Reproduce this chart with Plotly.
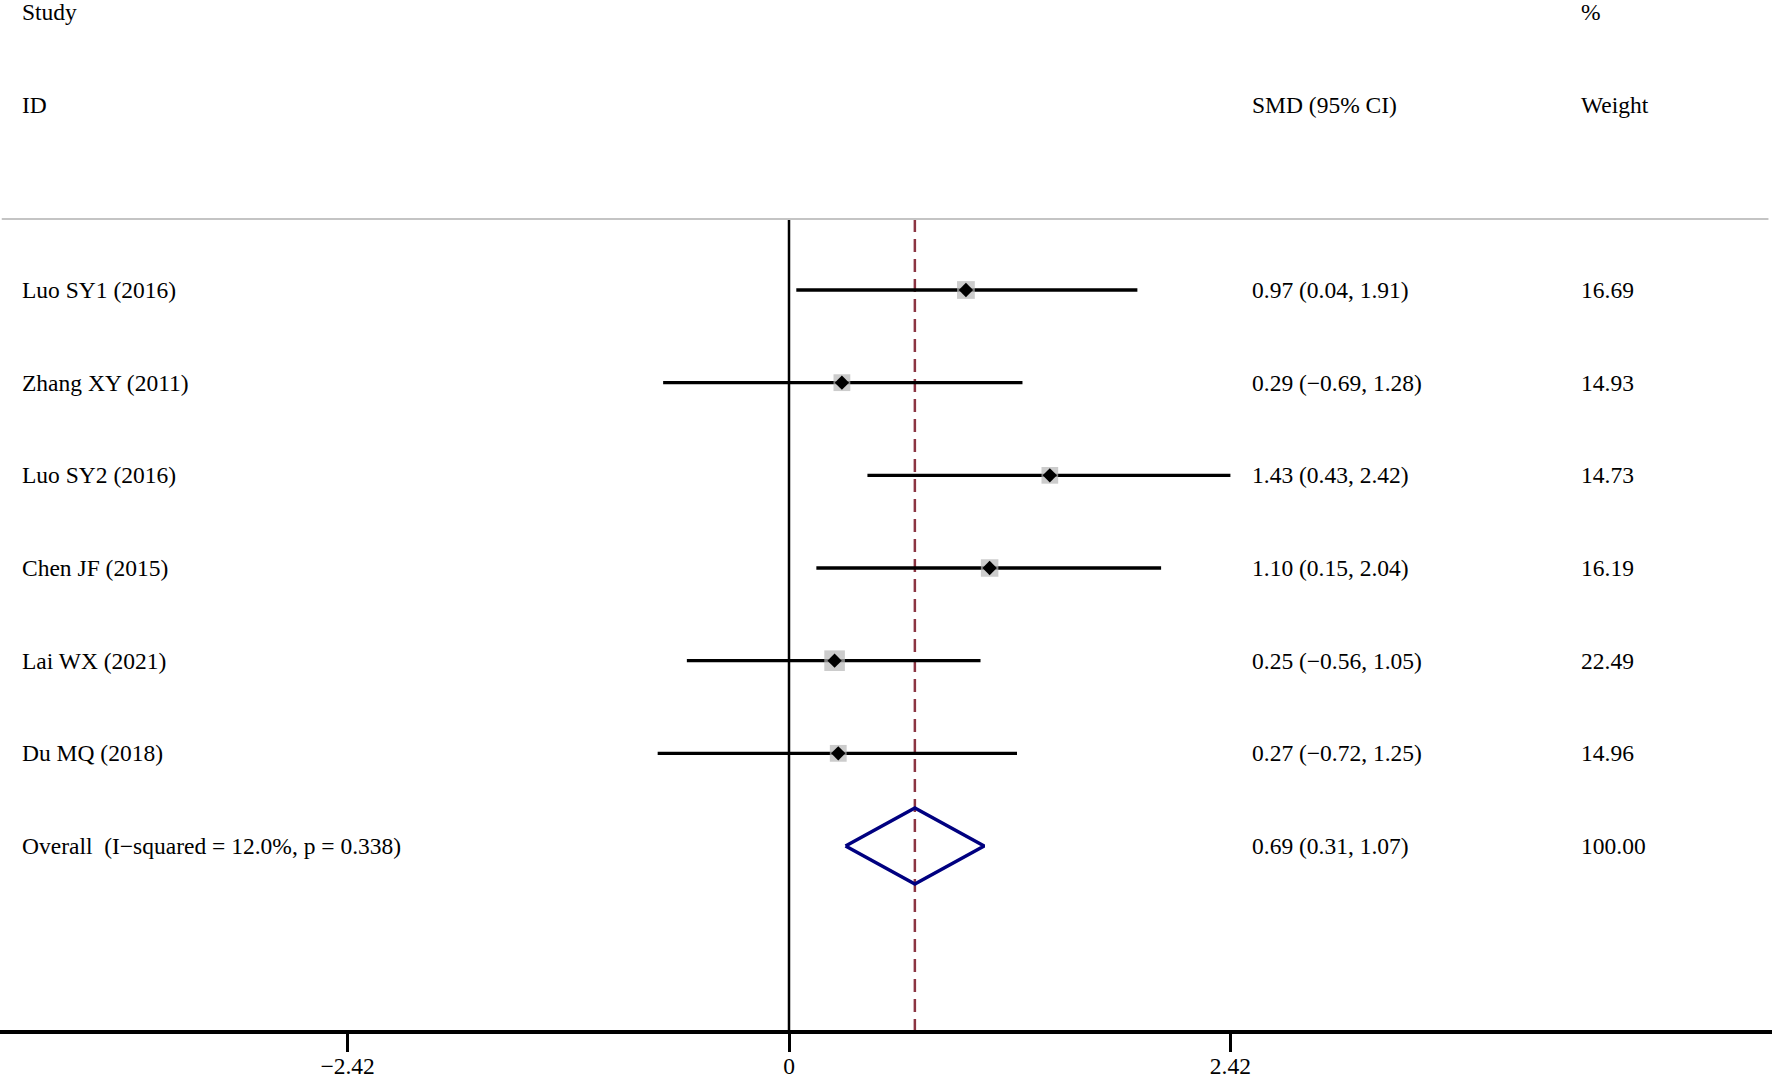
import plotly.graph_objects as go

studies = ["Luo SY1 (2016)", "Zhang XY (2011)", "Luo SY2 (2016)", "Chen JF (2015)",
           "Lai WX (2021)", "Du MQ (2018)"]
smd = [0.97, 0.29, 1.43, 1.10, 0.25, 0.27]
ci_low = [0.04, -0.69, 0.43, 0.15, -0.56, -0.72]
ci_high = [1.91, 1.28, 2.42, 2.04, 1.05, 1.25]
weights = [16.69, 14.93, 14.73, 16.19, 22.49, 14.96]
overall_label = "Overall  (I\u2212squared = 12.0%, p = 0.338)"
overall_est = 0.69
overall_low = 0.31
overall_high = 1.07
overall_weight = 100.00
tick_vals = [-2.42, 0, 2.42]
tick_text = ["\u22122.42", "0", "2.42"]

W, H = 1772, 1079
FONT = "Liberation Serif, Times New Roman, serif"
FS = 23.5

def fmt(v):
    return f"{v:.2f}".replace("-", "\u2212")

rows = list(range(len(studies)))
overall_row = len(studies)
# row 0 sits 290px from the top, rows 92.67px apart, plot bottom at 1030px
row0_px, row_px, plot_bottom_px = 290, 92.67, 1030
y_top = -row0_px / row_px
y_bottom = (plot_bottom_px - row0_px) / row_px
header_line_y = (219 - row0_px) / row_px
hdr1_y = (12 - row0_px) / row_px
hdr2_y = (105 - row0_px) / row_px

fig = go.Figure()

# zero line
fig.add_trace(go.Scatter(x=[0, 0], y=[header_line_y, y_bottom], mode="lines",
                         line=dict(color="black", width=2.5), hoverinfo="skip", showlegend=False))
# overall dashed line
fig.add_trace(go.Scatter(x=[overall_est, overall_est], y=[header_line_y, y_bottom], mode="lines",
                         line=dict(color="#8b3442", width=2.5, dash="13px,7px"),
                         hoverinfo="skip", showlegend=False))

# CI lines
cx, cy = [], []
for i in rows:
    cx += [ci_low[i], ci_high[i], None]
    cy += [i, i, None]
fig.add_trace(go.Scatter(x=cx, y=cy, mode="lines", line=dict(color="black", width=3.3),
                         hoverinfo="skip", showlegend=False))

# weight squares
fig.add_trace(go.Scatter(x=smd, y=rows, mode="markers",
                         marker=dict(symbol="square", color="#b6b6b6",
                                     size=[4.35 * (w ** 0.5) for w in weights],
                                     line=dict(width=0)),
                         hoverinfo="skip", showlegend=False))
# point estimate diamonds
fig.add_trace(go.Scatter(x=smd, y=rows, mode="markers",
                         marker=dict(symbol="diamond", color="black", size=11, line=dict(width=0)),
                         hoverinfo="skip", showlegend=False))

# overall diamond
h = 0.41
fig.add_trace(go.Scatter(x=[overall_low, overall_est, overall_high, overall_est, overall_low],
                         y=[overall_row, overall_row - h, overall_row, overall_row + h, overall_row],
                         mode="lines", line=dict(color="#000080", width=3.5),
                         hoverinfo="skip", showlegend=False))

# header line
fig.add_shape(type="line", xref="paper", yref="y", x0=0.001, x1=0.998,
              y0=header_line_y, y1=header_line_y, line=dict(color="#c4c4c4", width=2))

col_study = 20 / W
col_smd = 1250 / W
col_w = 1579 / W

def ann(x, y, text):
    fig.add_annotation(x=x, y=y, xref="paper", yref="y", text=text, showarrow=False,
                       xanchor="left", yanchor="middle",
                       font=dict(family=FONT, size=FS, color="black"))

ann(col_study, hdr1_y, "Study")
ann(col_study, hdr2_y, "ID")
ann(col_smd, hdr2_y, "SMD (95% CI)")
ann(col_w, hdr1_y, "%")
ann(col_w, hdr2_y, "Weight")

for i in rows:
    ann(col_study, i, studies[i])
    ann(col_smd, i, f"{fmt(smd[i])} ({fmt(ci_low[i])}, {fmt(ci_high[i])})")
    ann(col_w, i, f"{weights[i]:.2f}")
ann(col_study, overall_row, overall_label)
ann(col_smd, overall_row, f"{fmt(overall_est)} ({fmt(overall_low)}, {fmt(overall_high)})")
ann(col_w, overall_row, f"{overall_weight:.2f}")

zero_px = 789
px_per_unit = 182.4
x_left = -zero_px / px_per_unit
x_right = (W - zero_px) / px_per_unit

fig.update_layout(
    width=W, height=H,
    margin=dict(l=0, r=0, t=0, b=H - plot_bottom_px, autoexpand=False),
    paper_bgcolor="white", plot_bgcolor="white",
    font=dict(family=FONT, size=FS, color="black"),
    xaxis=dict(range=[x_left, x_right], showgrid=False, zeroline=False, automargin=False,
               showline=True, linecolor="black", linewidth=3.5,
               ticks="outside", ticklen=18, tickwidth=2.5, tickcolor="black",
               ticklabelstandoff=-6,
               tickvals=tick_vals, ticktext=tick_text,
               tickfont=dict(family=FONT, size=FS, color="black")),
    yaxis=dict(range=[y_bottom, y_top], showgrid=False, zeroline=False, automargin=False,
               showticklabels=False, showline=False, ticks=""),
)

fig.write_html(
    "out.html",
    config={"displayModeBar": False},
    post_script="document.body.style.margin='0';"
                "document.body.style.overflow='hidden';"
                "document.documentElement.style.overflow='hidden';",
)
